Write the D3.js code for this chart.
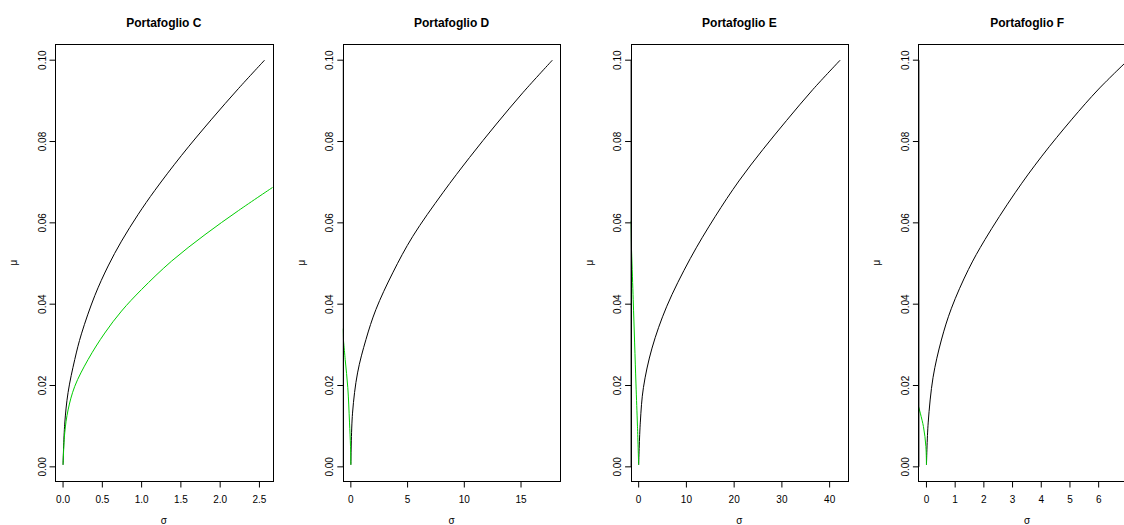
<!DOCTYPE html>
<html>
<head>
<meta charset="utf-8">
<script src="https://cdn.jsdelivr.net/npm/d3@7"></script>
<style>
  html, body { margin: 0; padding: 0; background: #fff; }
  svg { display: block; font-family: "Liberation Sans", Arial, Helvetica, sans-serif; }
  .box { fill: none; stroke: #000; stroke-width: 1; }
  .axis line, .axis path { stroke: #000; stroke-width: 1; }
  .tick-label { font-size: 10px; fill: #000; }
  .title { font-size: 12px; font-weight: bold; fill: #000; }
  .frontier { fill: none; stroke: #000; stroke-width: 1; }
  .frontier-green { fill: none; stroke: #00cd00; stroke-width: 1; }
</style>
</head>
<body>
<div id="chart"></div>
<script>
(function () {
  var titles = ['Portafoglio C', 'Portafoglio D', 'Portafoglio E', 'Portafoglio F'];

  // black frontier (sigma, mu) per portfolio
  var sigmaC = [0, 0.021, 0.064, 0.149, 0.234, 0.404, 0.574, 0.744, 0.957, 1.169, 1.509, 1.892, 2.232, 2.565];
  var muC = [0.0005, 0.0105, 0.0183, 0.0264, 0.0327, 0.0421, 0.0494, 0.0555, 0.0621, 0.0680, 0.0766, 0.0855, 0.0930, 0.1000];
  var sigmaD = [0, 0.147, 0.59, 1.33, 2.21, 3.69, 5.46, 8.11, 10.47, 12.83, 15.19, 17.76];
  var muD = [0.0005, 0.0132, 0.0231, 0.0313, 0.0387, 0.0477, 0.0567, 0.0674, 0.0761, 0.0843, 0.0921, 0.1000];
  var sigmaE = [0, 0.35, 1.0, 2.8, 5.9, 10.8, 16.0, 21.0, 26.0, 31.0, 36.5, 42.2];
  var muE = [0.0005, 0.0110, 0.0195, 0.0292, 0.0395, 0.0512, 0.0615, 0.0703, 0.0780, 0.0852, 0.0928, 0.1000];
  var sigmaF = [0, 0.06, 0.23, 0.52, 0.87, 1.46, 2.04, 3.09, 4.02, 5.07, 6.0, 7.02];
  var muF = [0.0005, 0.0108, 0.0220, 0.0312, 0.0390, 0.0485, 0.0559, 0.0674, 0.0764, 0.0855, 0.0929, 0.1000];

  // green curve per portfolio
  var greenSigmaC = [0, 0.021, 0.064, 0.149, 0.319, 0.531, 0.744, 0.999, 1.382, 1.807, 2.232, 2.674];
  var greenMuC = [0.0005, 0.0083, 0.0140, 0.0198, 0.0264, 0.0329, 0.0383, 0.0436, 0.0506, 0.0571, 0.0630, 0.0688];
  var greenSigmaD = [-0.74, -0.50, -0.27, -0.12, -0.03, 0];
  var greenMuD = [0.0340, 0.0264, 0.0195, 0.0110, 0.0050, 0.0005];
  var greenSigmaE = [-1.70, -1.14, -0.57, -0.25, 0];
  var greenMuE = [0.0605, 0.0411, 0.0206, 0.0100, 0.0005];
  var greenSigmaF = [-0.29, -0.105, -0.02, 0];
  var greenMuF = [0.0152, 0.0099, 0.0050, 0.0005];

  var yTicks = [0, 0.02, 0.04, 0.06, 0.08, 0.10];
  var xTicksC = [0, 0.5, 1, 1.5, 2, 2.5];
  var xTicksD = [0, 5, 10, 15];
  var xTicksE = [0, 10, 20, 30, 40];
  var xTicksF = [0, 1, 2, 3, 4, 5, 6];

  var panels = [
    { title: titles[0], sx: sigmaC, sy: muC, gx: greenSigmaC, gy: greenMuC, ticks: xTicksC, digits: 1 },
    { title: titles[1], sx: sigmaD, sy: muD, gx: greenSigmaD, gy: greenMuD, ticks: xTicksD, digits: 0 },
    { title: titles[2], sx: sigmaE, sy: muE, gx: greenSigmaE, gy: greenMuE, ticks: xTicksE, digits: 0 },
    { title: titles[3], sx: sigmaF, sy: muF, gx: greenSigmaF, gy: greenMuF, ticks: xTicksF, digits: 0 }
  ];

  var width = 1124;
  var height = 525;
  var panelW = 287.8;
  var box = { left: 55, top: 44, width: 217.6, height: 437 };

  var svg = d3.select('#chart').append('svg')
    .attr('width', width)
    .attr('height', height);

  function padded(values) {
    // R style 4% range extension
    var ext = d3.extent(values);
    var pad = (ext[1] - ext[0]) * 0.04;
    return [ext[0] - pad, ext[1] + pad];
  }

  function zip(xs, ys) {
    return xs.map(function (x, i) { return { x: x, y: ys[i] }; });
  }

  panels.forEach(function (p, i) {
    var ox = i * panelW + box.left;
    var g = svg.append('g').attr('transform', 'translate(' + ox + ',' + box.top + ')');

    var xScale = d3.scaleLinear().domain(padded(p.sx)).range([0, box.width]);
    var yScale = d3.scaleLinear().domain(padded(p.sy)).range([box.height, 0]);

    var clipId = 'clip-' + i;
    g.append('clipPath').attr('id', clipId)
      .append('rect')
      .attr('width', box.width)
      .attr('height', box.height);

    var line = d3.line()
      .x(function (d) { return xScale(d.x); })
      .y(function (d) { return yScale(d.y); })
      .curve(d3.curveCatmullRom.alpha(0.5));

    var plot = g.append('g').attr('clip-path', 'url(#' + clipId + ')');
    plot.append('path').attr('class', 'frontier').attr('d', line(zip(p.sx, p.sy)));
    plot.append('path').attr('class', 'frontier-green').attr('d', line(zip(p.gx, p.gy)));

    g.append('rect').attr('class', 'box')
      .attr('x', 0.5).attr('y', 0.5)
      .attr('width', box.width).attr('height', box.height)
      .attr('shape-rendering', 'crispEdges');

    // x axis (below the box, line spans first to last tick)
    var xAxis = g.append('g').attr('class', 'axis')
      .attr('transform', 'translate(0,' + (box.height + 0.5) + ')');
    xAxis.append('line')
      .attr('x1', xScale(p.ticks[0])).attr('x2', xScale(p.ticks[p.ticks.length - 1]))
      .attr('y1', 0).attr('y2', 0);
    xAxis.selectAll('.xt').data(p.ticks).enter().append('line')
      .attr('class', 'xt')
      .attr('x1', function (d) { return xScale(d); })
      .attr('x2', function (d) { return xScale(d); })
      .attr('y1', 0).attr('y2', 6);
    xAxis.selectAll('.xl').data(p.ticks).enter().append('text')
      .attr('class', 'tick-label')
      .attr('x', function (d) { return xScale(d); })
      .attr('y', 21)
      .attr('text-anchor', 'middle')
      .text(function (d) { return d.toFixed(p.digits); });

    // y axis
    var yAxis = g.append('g').attr('class', 'axis').attr('transform', 'translate(0.5,0)');
    yAxis.append('line')
      .attr('x1', 0).attr('x2', 0)
      .attr('y1', yScale(yTicks[0])).attr('y2', yScale(yTicks[yTicks.length - 1]));
    yAxis.selectAll('.yt').data(yTicks).enter().append('line')
      .attr('class', 'yt')
      .attr('x1', 0).attr('x2', -6)
      .attr('y1', function (d) { return yScale(d); })
      .attr('y2', function (d) { return yScale(d); });
    yAxis.selectAll('.yl').data(yTicks).enter().append('text')
      .attr('class', 'tick-label')
      .attr('text-anchor', 'middle')
      .attr('transform', function (d) { return 'translate(-10,' + yScale(d) + ') rotate(-90)'; })
      .text(function (d) { return d.toFixed(2); });

    g.append('text').attr('class', 'title')
      .attr('x', box.width / 2).attr('y', 26.5 - box.top)
      .attr('text-anchor', 'middle')
      .text(p.title);

    g.append('text').attr('class', 'tick-label')
      .attr('x', box.width / 2).attr('y', 523.5 - box.top)
      .attr('text-anchor', 'middle')
      .text('σ');

    g.append('text').attr('class', 'tick-label')
      .attr('text-anchor', 'middle')
      .attr('transform', 'translate(' + (17 - box.left) + ',' + (box.height / 2) + ') rotate(-90)')
      .text('μ');
  });
})();
</script>
</body>
</html>
